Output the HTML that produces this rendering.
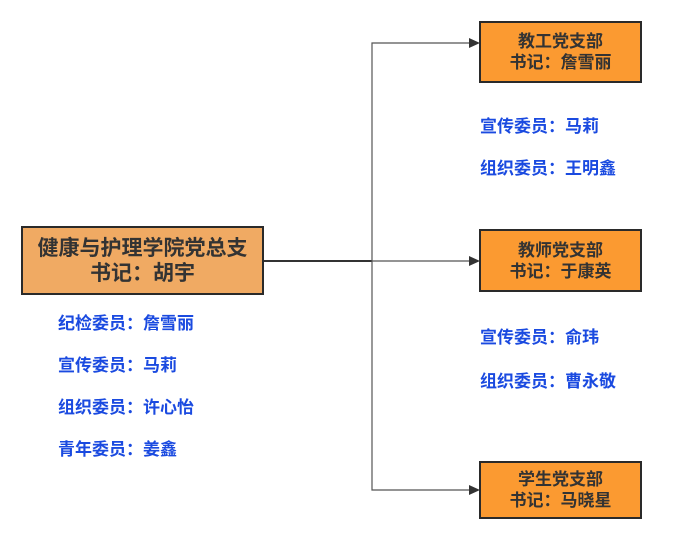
<!DOCTYPE html>
<html><head><meta charset="utf-8"><style>
body{margin:0;width:680px;height:539px;background:#fff;position:relative;overflow:hidden;font-family:"Liberation Sans","Noto Sans CJK SC",sans-serif;font-weight:bold}
.box{position:absolute;box-sizing:border-box;border:2px solid #2a2a2a;background:#fb9a31;color:#333;text-align:center;font-size:17px;line-height:21px;display:flex;flex-direction:column;justify-content:center}
.t{position:absolute;color:#1a4ae0;font-size:17px;line-height:20px;white-space:nowrap}
</style></head><body>
<svg width="680" height="539" style="position:absolute;left:0;top:0">
<line x1="263" y1="261" x2="372" y2="261" stroke="#333" stroke-width="2"/>
<polyline points="470,43 372,43 372,490 470,490" fill="none" stroke="#555" stroke-width="1.2"/>
<line x1="372" y1="261" x2="470" y2="261" stroke="#555" stroke-width="1.2"/>
<polygon points="480,43 469,38 469,48" fill="#333"/>
<polygon points="480,261 469,256 469,266" fill="#333"/>
<polygon points="480,490 469,485 469,495" fill="#333"/>
</svg>
<div class="box" style="left:21px;top:226px;width:243px;height:69px;background:#f0aa63;font-size:21px;line-height:25px">健康与护理学院党总支<br>书记：胡宇</div>
<div class="box" style="left:479px;top:21px;width:163px;height:62px">教工党支部<br>书记：詹雪丽</div>
<div class="box" style="left:479px;top:229px;width:163px;height:63px">教师党支部<br>书记：于康英</div>
<div class="box" style="left:479px;top:461px;width:163px;height:58px">学生党支部<br>书记：马晓星</div>
<div class="t" style="left:58px;top:314px">纪检委员：詹雪丽</div>
<div class="t" style="left:58px;top:356px">宣传委员：马莉</div>
<div class="t" style="left:58px;top:398px">组织委员：许心怡</div>
<div class="t" style="left:58px;top:440px">青年委员：姜鑫</div>
<div class="t" style="left:480px;top:117px">宣传委员：马莉</div>
<div class="t" style="left:480px;top:159px">组织委员：王明鑫</div>
<div class="t" style="left:480px;top:328px">宣传委员：俞玮</div>
<div class="t" style="left:480px;top:372px">组织委员：曹永敬</div>
</body></html>
